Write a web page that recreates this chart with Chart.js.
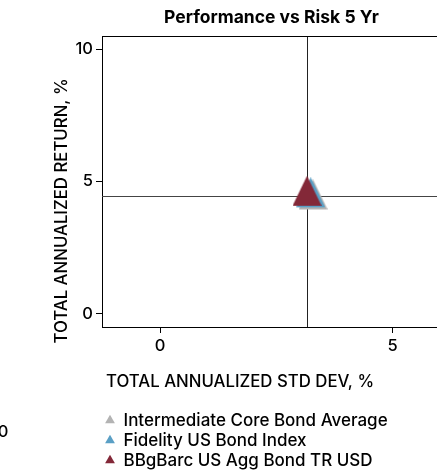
<!DOCTYPE html>
<html>
<head>
<meta charset="utf-8">
<script src="https://cdn.jsdelivr.net/npm/chart.js@4/dist/chart.umd.min.js"></script>
<style>
  html, body { margin: 0; padding: 0; background: #fff; overflow: hidden; }
  #wrap { width: 437px; height: 472px; overflow: hidden; position: relative; }
  #c { position: absolute; left: 0; top: 0; }
</style>
</head>
<body>
<div id="wrap"><canvas id="c" width="543" height="479"></canvas></div>
<script>
// Series, drawn in this order (first one ends up on top)
const seriesNames  = ['BBgBarc US Agg Bond TR USD', 'Fidelity US Bond Index', 'Intermediate Core Bond Average'];
const seriesColors = ['#832838', '#5a9fc5', '#b3b3b3'];
const stdDev       = [3.16, 3.24, 3.29];   // total annualized std dev, %
const annReturn    = [4.46, 4.40, 4.32];   // total annualized return, %

const xTickValues = [0, 5];
const yTickValues = [0, 5, 10];

// Reference lines sit on the benchmark (first series)
const refRisk = stdDev[0];
const refReturn = annReturn[0];

const FONT = 'Inter';
const TEXT_WEIGHT = 500;
const TEXT_SIZE = 16.5;

// Isosceles triangle marker whose centroid is the image centre
function triangleMarker(color) {
  const w = 29, tri = 30, h = 40;
  const c = document.createElement('canvas');
  c.width = w; c.height = h;
  const g = c.getContext('2d');
  g.fillStyle = color;
  g.beginPath();
  g.moveTo(w / 2, 0);
  g.lineTo(w, tri);
  g.lineTo(0, tri);
  g.closePath();
  g.fill();
  return c;
}

const datasets = seriesNames.map((name, i) => ({
  label: name,
  data: [{ x: stdDev[i], y: annReturn[i] }],
  pointStyle: triangleMarker(seriesColors[i]),
  backgroundColor: seriesColors[i],
  borderColor: seriesColors[i],
  borderWidth: 0
}));

const refLines = {
  id: 'refLines',
  beforeDatasetsDraw(chart) {
    const { ctx, chartArea: a, scales: { x, y } } = chart;
    const px = Math.round(x.getPixelForValue(refRisk)) + 0.5;
    const py = Math.round(y.getPixelForValue(refReturn)) + 0.5;
    ctx.save();
    ctx.lineWidth = 1;
    ctx.strokeStyle = '#222';
    ctx.beginPath();
    ctx.moveTo(px, a.top); ctx.lineTo(px, a.bottom);
    ctx.stroke();
    ctx.strokeStyle = '#444';
    ctx.beginPath();
    ctx.moveTo(a.left, py); ctx.lineTo(a.right, py);
    ctx.stroke();
    // top edge of the frame
    ctx.strokeStyle = '#000';
    ctx.beginPath();
    ctx.moveTo(a.left, Math.round(a.top) + 0.5); ctx.lineTo(a.right, Math.round(a.top) + 0.5);
    ctx.stroke();
    ctx.restore();
  }
};

const axisTitles = {
  id: 'axisTitles',
  afterDraw(chart) {
    const { ctx, chartArea: a } = chart;
    ctx.save();
    ctx.fillStyle = '#000';
    ctx.font = TEXT_WEIGHT + ' 16.8px ' + FONT;
    ctx.textBaseline = 'middle';
    ctx.textAlign = 'left';
    ctx.fillText('TOTAL ANNUALIZED STD DEV, %', a.left + 4, a.bottom + 55);
    ctx.save();
    ctx.translate(62, 211);
    ctx.rotate(-Math.PI / 2);
    ctx.textAlign = 'center';
    ctx.fillText('TOTAL ANNUALIZED RETURN, %', 0, 0);
    ctx.restore();
    // partial '0' label at the left edge
    ctx.font = TEXT_WEIGHT + ' ' + TEXT_SIZE + 'px ' + FONT;
    ctx.textAlign = 'center';
    ctx.fillText('0', 3, 432);
    ctx.restore();
  }
};

const tickFont = { family: FONT, size: TEXT_SIZE, weight: TEXT_WEIGHT };

new Chart(document.getElementById('c'), {
  type: 'scatter',
  data: { datasets },
  options: {
    responsive: false,
    animation: false,
    devicePixelRatio: 1,
    layout: { padding: 0 },
    plugins: {
      title: {
        display: true,
        text: 'Performance vs Risk 5 Yr',
        color: '#000',
        font: { family: FONT, size: 17.5, weight: 'bold', lineHeight: 1.2 },
        padding: { top: 7, bottom: 8 }
      },
      legend: {
        position: 'bottom',
        align: 'start',
        fullSize: false,
        reverse: true,
        labels: {
          usePointStyle: true,
          pointStyle: 'triangle',
          boxWidth: 10,
          boxHeight: 8,
          padding: 3,
          color: '#000',
          font: { family: FONT, size: 17, weight: TEXT_WEIGHT }
        }
      },
      tooltip: { enabled: false }
    },
    scales: {
      x: {
        type: 'linear',
        min: -1.25,
        max: 8.15,
        afterBuildTicks: s => { s.ticks = xTickValues.map(v => ({ value: v })); },
        afterFit: s => { s.height = 82; },
        grid: { drawOnChartArea: false, tickLength: 6, color: '#000' },
        border: { display: true, color: '#000', width: 1 },
        ticks: { color: '#000', padding: 3, font: tickFont }
      },
      y: {
        type: 'linear',
        min: -0.5,
        max: 10.5,
        afterBuildTicks: s => { s.ticks = yTickValues.map(v => ({ value: v })); },
        afterFit: s => { s.width = 102; },
        grid: { drawOnChartArea: false, tickLength: 6, color: '#000' },
        border: { display: true, color: '#000', width: 1 },
        ticks: { color: '#000', padding: 3, font: tickFont }
      }
    }
  },
  plugins: [refLines, axisTitles]
});
</script>
</body>
</html>
